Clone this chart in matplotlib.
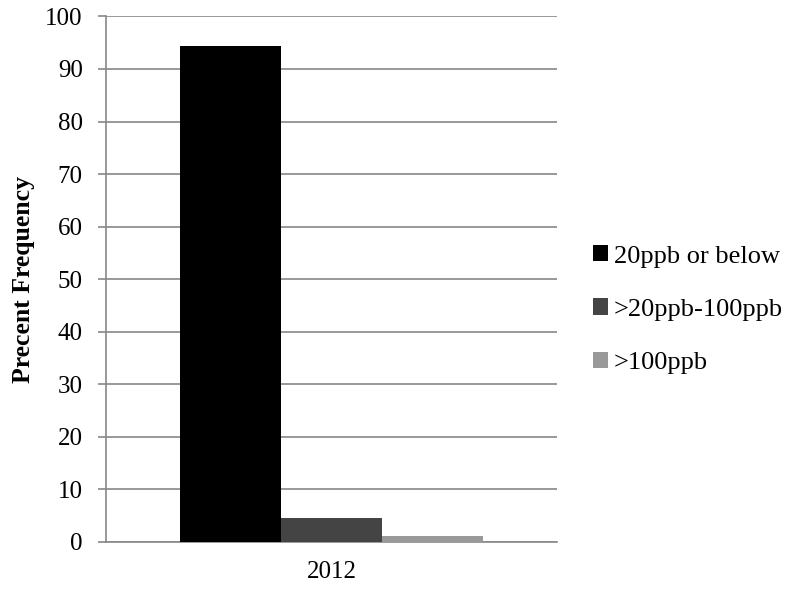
import numpy as np
import matplotlib.pyplot as plt

# data
years = ["2012"]
series = ["20ppb or below", ">20ppb-100ppb", ">100ppb"]
values = [94.4, 4.6, 1.0]
colors = ["#000000", "#444444", "#999999"]

plt.rcParams['font.family'] = ['Liberation Serif', 'DejaVu Serif']

fig = plt.figure(figsize=(7.87, 5.90), dpi=100)
ax = fig.add_axes([0.1347, 0.0819, 0.5731, 0.8902])

w = 0.2235
offsets = (np.arange(len(series)) - 1) * w
for i, name in enumerate(series):
    ax.bar(offsets[i], values[i], width=w, color=colors[i], label=name, zorder=3)

ax.set_xlim(-0.5, 0.5)
ax.set_ylim(0, 100)
ax.set_yticks(np.arange(0, 101, 10))
ax.set_xticks([0])
ax.set_xticklabels(years)
ax.tick_params(axis='x', length=0, labelsize=18, pad=14)
ax.tick_params(axis='y', length=5.8, width=1.2, color='#888888', labelsize=18, pad=11)
ax.yaxis.grid(True, color='#888888', linewidth=1.2, zorder=0)
for s in ['top', 'right']:
    ax.spines[s].set_visible(False)
for s in ['left', 'bottom']:
    ax.spines[s].set_color('#888888')
    ax.spines[s].set_linewidth(1.2)

ax.set_ylabel("Precent Frequency", fontsize=18.5, fontweight='bold')
ax.yaxis.set_label_coords(-0.157, 0.5)

fig.legend(loc='center left', bbox_to_anchor=(0.7535, 0.4752), frameon=False,
           fontsize=19, handlelength=0.57, handleheight=0.57, handletextpad=0.23,
           labelspacing=1.17, borderpad=0, borderaxespad=0)

fig.savefig("out.png", dpi=100)
